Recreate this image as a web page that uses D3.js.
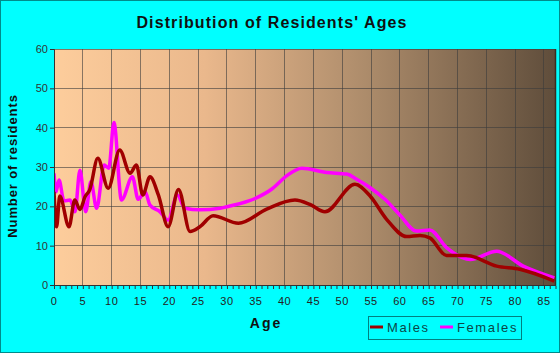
<!DOCTYPE html>
<html>
<head>
<meta charset="utf-8">
<script src="https://cdn.jsdelivr.net/npm/d3@7"></script>
<style>
  body { margin: 0; background: #00ffff; }
  svg { display: block; font-family: Arial, "Liberation Sans", sans-serif; }
</style>
</head>
<body>
<svg id="chart" width="560" height="353"></svg>
<script>
// values (age, residents)
const maleAges = [0, 0.45, 1.0, 2.6, 3.6, 4.5, 5.4, 6.2, 7.6, 9.4, 11.4, 13.2, 14.3, 15.4, 16.65, 18.1, 19.8, 21.6, 23.6, 25.3, 27.6, 32, 36.9, 41.8, 44.4, 47, 52.2, 54.8, 57.7, 61.2, 63.5, 65.2, 68.1, 71.6, 76.8, 80.8, 86.8];
const maleVals = [23.7, 14.8, 22.6, 14.8, 21.6, 19.2, 22.5, 24.2, 32.2, 24.6, 34.3, 28.4, 30.5, 22.9, 27.5, 22.9, 14.8, 24.3, 13.6, 14.8, 17.6, 15.7, 19.3, 21.6, 20.5, 18.6, 25.6, 22.7, 16.7, 12.3, 12.6, 12.0, 7.5, 7.5, 4.8, 4.0, 1.0];

const femaleAges = [0, 0.35, 0.87, 1.73, 2.8, 3.64, 4.5, 5.5, 6.4, 7.4, 8.7, 9.5, 10.4, 11.7, 13.6, 14.6, 15.8, 16.65, 18.4, 19.8, 21.4, 22.7, 25.3, 28.8, 30, 35.2, 37.8, 40.4, 43, 47.3, 50.8, 52.5, 54.8, 57.4, 60, 62.9, 65.2, 68.1, 72.2, 76.8, 81.4, 86.8];
const femaleVals = [28.4, 23.7, 26.7, 21.4, 21.6, 18.6, 29.2, 18.6, 26.3, 19.5, 30.5, 29.7, 41.3, 21.6, 27.5, 21.8, 23.7, 20.3, 18.6, 16.5, 22.9, 19.5, 19.1, 19.5, 19.9, 22.2, 24.4, 27.8, 29.7, 28.6, 28.2, 26.9, 24.8, 21.8, 17.8, 13.7, 14.0, 9.5, 6.5, 8.6, 4.8, 1.8];

const yTicks = [0, 10, 20, 30, 40, 50, 60];
const xTicks = [0, 5, 10, 15, 20, 25, 30, 35, 40, 45, 50, 55, 60, 65, 70, 75, 80, 85];

const svg = d3.select("#chart");
const W = 560, H = 353;
const margin = {top: 49, right: 5, bottom: 68, left: 54};
const pw = 555.5 - margin.left;
const ph = 285 - margin.top;

// outer frame
svg.append("rect").attr("x", 0.5).attr("y", 0.5).attr("width", W - 1).attr("height", H - 1)
    .attr("fill", "#00ffff").attr("stroke", "#008b8b");

const x = d3.scaleLinear().domain([0, 87]).range([0, pw]);
const y = d3.scaleLinear().domain([0, 60]).range([ph, 0]);

const defs = svg.append("defs");
const grad = defs.append("linearGradient").attr("id", "bg").attr("x1", "0").attr("x2", "1").attr("y1", "0").attr("y2", "0");
[["0", "#fdcd9c"], ["0.3", "#eab88c"], ["0.62", "#ad8c6b"], ["1", "#5f4d3b"]].forEach(s =>
    grad.append("stop").attr("offset", s[0]).attr("stop-color", s[1]));
defs.append("clipPath").attr("id", "clip").append("rect").attr("width", pw).attr("height", ph);

const g = svg.append("g").attr("transform", `translate(${margin.left},${margin.top})`);

g.append("rect").attr("width", pw).attr("height", ph).attr("fill", "url(#bg)");

// grid
g.append("g").selectAll("line").data(xTicks.slice(1)).join("line")
    .attr("x1", d => x(d)).attr("x2", d => x(d)).attr("y1", 0).attr("y2", ph)
    .attr("stroke", "#3c3c3c").attr("stroke-opacity", 0.6).attr("shape-rendering", "crispEdges");
g.append("g").selectAll("line").data(yTicks.slice(1)).join("line")
    .attr("x1", 0).attr("x2", pw).attr("y1", d => y(d)).attr("y2", d => y(d))
    .attr("stroke", "#3c3c3c").attr("stroke-opacity", 0.6).attr("shape-rendering", "crispEdges");

// right edge shade
g.append("line").attr("x1", pw).attr("x2", pw).attr("y1", 0).attr("y2", ph)
    .attr("stroke", "#3a2e22").attr("stroke-width", 1.5);

// lines
const line = (ages, vals) => d3.line()
    .x((d, i) => x(ages[i])).y(d => y(d))
    .curve(d3.curveMonotoneX)(vals);

const plot = g.append("g").attr("clip-path", "url(#clip)");
plot.append("path").attr("d", line(femaleAges, femaleVals))
    .attr("fill", "none").attr("stroke", "#ff00ff").attr("stroke-width", 3.5).attr("stroke-linejoin", "round");
plot.append("path").attr("d", line(maleAges, maleVals))
    .attr("fill", "none").attr("stroke", "#a00000").attr("stroke-width", 3.5).attr("stroke-linejoin", "round");

// axes
const xAxis = g.append("g").attr("transform", `translate(0,${ph})`)
    .call(d3.axisBottom(x).tickValues(d3.range(0, 87)).tickSize(4).tickFormat(""));
xAxis.select(".domain").attr("stroke", "#333");
xAxis.selectAll(".tick line").attr("stroke", "#333");
g.append("g").selectAll("text").data(xTicks).join("text")
    .attr("x", d => x(d)).attr("y", ph + 20)
    .attr("text-anchor", "middle").attr("font-size", 11).attr("letter-spacing", 0.5)
    .attr("fill", "#222").text(d => d);

const yAxis = g.append("g")
    .call(d3.axisLeft(y).tickValues(yTicks).tickSize(4).tickPadding(2));
yAxis.select(".domain").attr("stroke", "#333");
yAxis.selectAll(".tick line").attr("stroke", "#333");
yAxis.selectAll("text").attr("font-size", 11).attr("fill", "#333").attr("font-family", "Arial, 'Liberation Sans', sans-serif");

// title and labels
svg.append("text").attr("x", 272).attr("y", 28).attr("text-anchor", "middle")
    .attr("font-size", 16).attr("font-weight", "bold").attr("letter-spacing", 1.1)
    .attr("fill", "#111").text("Distribution of Residents' Ages");

svg.append("text").attr("transform", "translate(17,166) rotate(-90)").attr("text-anchor", "middle")
    .attr("font-size", 13).attr("font-weight", "bold").attr("letter-spacing", 0.9)
    .attr("fill", "#111").text("Number of residents");

svg.append("text").attr("x", 266).attr("y", 328).attr("text-anchor", "middle")
    .attr("font-size", 14).attr("font-weight", "bold").attr("letter-spacing", 2)
    .attr("fill", "#111").text("Age");

// legend
const legend = svg.append("g");
legend.append("rect").attr("x", 368.5).attr("y", 316.5).attr("width", 153).attr("height", 23)
    .attr("fill", "none").attr("stroke", "#008080");
[{l: "Males", c: "#a00000", x: 370}, {l: "Females", c: "#ff00ff", x: 440}].forEach(item => {
    legend.append("line").attr("x1", item.x).attr("x2", item.x + 13).attr("y1", 327).attr("y2", 327)
        .attr("stroke", item.c).attr("stroke-width", 3);
    legend.append("text").attr("x", item.x + 17).attr("y", 332)
        .attr("font-size", 13).attr("letter-spacing", 1.6).attr("fill", "#0b4747").text(item.l);
});
</script>
</body>
</html>
